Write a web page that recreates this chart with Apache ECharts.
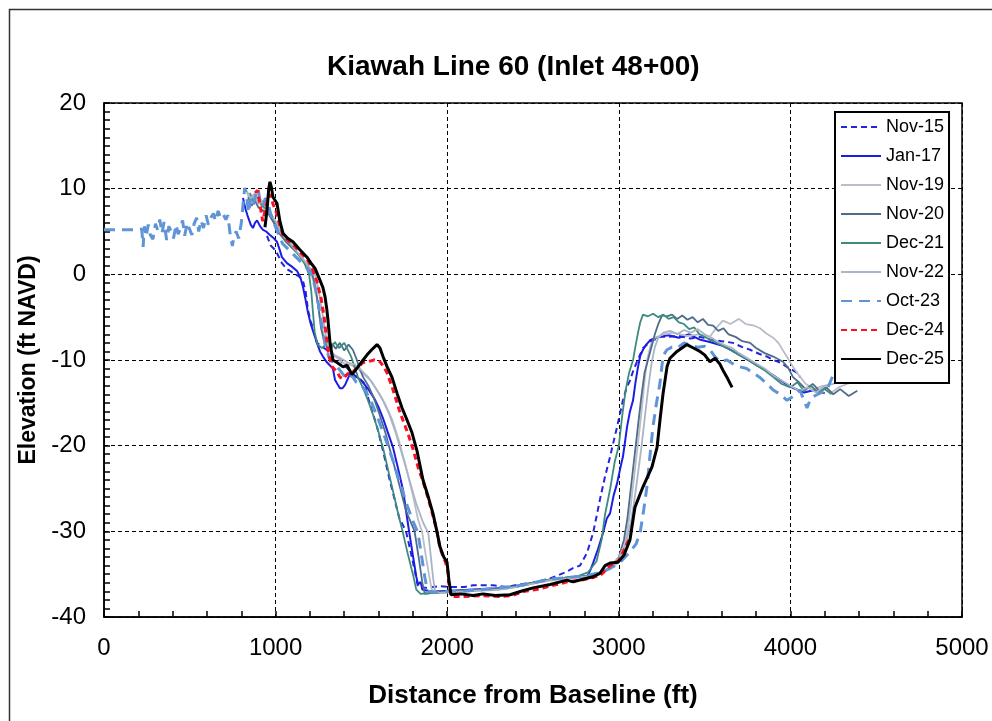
<!DOCTYPE html>
<html>
<head>
<meta charset="utf-8">
<title>Kiawah Line 60</title>
<script src="https://cdn.jsdelivr.net/npm/echarts@6/dist/echarts.min.js"></script>
<style>
    html, body { margin: 0; padding: 0; background: #fff; }
    #chart { width: 992px; height: 721px; }
</style>
</head>
<body>
<div id="chart"></div>
<script>
// survey names, in legend order
var surveys = ['Nov-15', 'Jan-17', 'Nov-19', 'Nov-20', 'Dec-21', 'Nov-22', 'Oct-23', 'Dec-24', 'Dec-25'];

// profiles: [distance ft, elevation ft NAVD]
var nov15 = [[950,4.5],[970,3.4],[1000,2.8],[1037,1.3],[1066,0.6],[1100,0.2],[1140,-0.3],[1160,-0.8],[1175,-2.0],[1189,-4.2],[1205,-5.5],[1218,-6.3],[1241,-8.0],[1276,-8.5],[1317,-9.1],[1345,-9.6],[1375,-10.0],[1410,-10.8],[1451,-11.7],[1490,-12.2],[1520,-12.8],[1533,-14.0],[1560,-15.8],[1591,-17.8],[1626,-20.6],[1660,-23.6],[1690,-26.0],[1720,-28.4],[1760,-30.0],[1785,-32.2],[1810,-34.5],[1830,-36.5],[1880,-36.6],[1950,-36.4],[2034,-36.5],[2100,-36.5],[2150,-36.3],[2267,-36.3],[2350,-36.5],[2420,-36.2],[2500,-36.0],[2600,-35.5],[2698,-34.7],[2733,-34.3],[2774,-34.0],[2815,-32.5],[2850,-30.2],[2870,-28.3],[2890,-26.3],[2920,-23.6],[2949,-21.3],[2970,-19.5],[2990,-17.8],[3024,-14.7],[3045,-13.3],[3065,-12.4],[3085,-11.2],[3106,-10.2],[3141,-8.6],[3182,-7.9],[3240,-7.3],[3281,-7.3],[3350,-7.2],[3420,-7.5],[3473,-7.3],[3530,-7.6],[3600,-7.8],[3665,-8.0],[3720,-8.5],[3765,-8.8],[3820,-9.3],[3864,-9.6],[3900,-10.0],[3940,-10.3],[3980,-10.8],[4015,-11.2],[4040,-11.5],[4056,-12.0]];

var jan17 = [[810,8.9],[825,7.6],[839,6.7],[855,5.8],[868,5.4],[880,6.0],[892,6.3],[910,5.6],[927,5.2],[945,5.0],[967,4.6],[990,4.2],[1008,3.8],[1025,2.8],[1037,2.0],[1066,1.3],[1095,0.9],[1125,0.4],[1145,-0.4],[1160,-1.5],[1175,-3.0],[1189,-4.5],[1205,-5.8],[1218,-6.6],[1241,-8.0],[1259,-9.0],[1276,-9.6],[1300,-10.3],[1334,-11.0],[1346,-12.3],[1360,-12.8],[1375,-13.3],[1390,-13.3],[1405,-12.9],[1416,-12.7],[1434,-11.6],[1460,-11.8],[1500,-12.4],[1540,-13.4],[1575,-14.5],[1600,-15.5],[1626,-16.8],[1655,-18.5],[1684,-20.2],[1713,-22.6],[1743,-25.2],[1760,-27.6],[1778,-30.0],[1800,-32.8],[1820,-35.3],[1830,-36.2],[1845,-35.9],[1855,-36.8],[1900,-37.0],[1960,-37.0],[2050,-36.9],[2150,-36.8],[2250,-36.7],[2350,-36.6],[2450,-36.2],[2550,-35.8],[2650,-35.5],[2750,-35.3],[2815,-35.3],[2835,-34.5],[2850,-33.7],[2880,-32.0],[2908,-30.2],[2930,-28.5],[2949,-27.9],[2970,-25.8],[2990,-24.4],[3010,-22.5],[3024,-21.3],[3040,-19.0],[3048,-17.8],[3065,-16.0],[3083,-14.7],[3098,-12.5],[3112,-10.8],[3125,-9.5],[3141,-8.8],[3160,-8.2],[3182,-7.7],[3230,-7.3],[3290,-7.1],[3350,-7.4],[3410,-7.0],[3470,-7.6],[3530,-7.9],[3600,-8.3],[3660,-8.9],[3720,-9.6],[3780,-10.3],[3840,-11.0],[3900,-11.8],[3960,-12.6],[4020,-13.3],[4080,-13.8],[4140,-13.5],[4200,-13.9]];

var nov19 = [[830,9.8],[850,8.6],[870,9.2],[890,8.2],[910,8.8],[935,7.5],[960,7.2],[985,6.4],[1010,5.2],[1040,4.4],[1080,3.6],[1120,2.6],[1160,1.6],[1200,0.5],[1220,-0.8],[1240,-2.8],[1260,-5.0],[1280,-7.0],[1300,-8.4],[1330,-9.2],[1360,-9.8],[1400,-10.4],[1440,-10.6],[1480,-11.0],[1520,-11.8],[1560,-12.5],[1600,-13.8],[1640,-15.2],[1680,-17.0],[1720,-19.5],[1760,-22.5],[1800,-25.8],[1830,-28.6],[1855,-30.2],[1875,-32.8],[1895,-35.2],[1910,-36.8],[1950,-37.2],[2050,-37.1],[2150,-36.9],[2250,-36.9],[2350,-36.7],[2450,-36.3],[2550,-35.9],[2650,-35.6],[2750,-35.4],[2850,-35.1],[2950,-34.4],[3000,-33.6],[3030,-32.0],[3050,-30.0],[3070,-27.0],[3090,-23.5],[3110,-20.0],[3130,-16.5],[3150,-12.5],[3165,-10.0],[3185,-8.3],[3210,-7.4],[3260,-7.0],[3320,-6.8],[3400,-7.2],[3470,-7.0],[3530,-7.3],[3570,-6.2],[3607,-5.4],[3650,-5.8],[3700,-5.2],[3740,-5.8],[3790,-6.0],[3823,-6.3],[3860,-6.9],[3899,-7.4],[3930,-8.0],[3957,-8.9],[3985,-9.8],[4015,-10.8],[4050,-11.8],[4090,-12.8],[4140,-13.4],[4190,-13.0],[4240,-13.8],[4280,-13.2],[4330,-12.8],[4380,-12.4]];

var nov20 = [[840,9.0],[860,8.0],[880,8.6],[900,7.8],[930,7.4],[960,7.0],[990,6.0],[1020,4.8],[1060,3.8],[1100,3.0],[1150,2.0],[1190,1.0],[1215,0.0],[1235,-1.8],[1250,-4.0],[1265,-6.3],[1285,-8.0],[1310,-8.8],[1330,-8.1],[1350,-8.7],[1375,-8.0],[1400,-8.9],[1425,-8.2],[1450,-8.8],[1470,-9.8],[1490,-11.0],[1510,-12.0],[1540,-13.0],[1570,-14.3],[1600,-16.0],[1640,-18.5],[1680,-21.5],[1720,-24.5],[1760,-27.6],[1810,-30.0],[1835,-33.2],[1855,-36.0],[1870,-37.3],[1950,-37.1],[2050,-37.0],[2150,-36.9],[2250,-36.8],[2350,-36.6],[2450,-36.3],[2550,-35.8],[2650,-35.5],[2750,-35.3],[2850,-35.1],[2920,-34.6],[2960,-34.0],[3000,-33.0],[3030,-31.0],[3050,-28.5],[3070,-25.0],[3090,-21.5],[3110,-18.0],[3130,-14.5],[3150,-11.5],[3170,-10.0],[3190,-8.5],[3210,-7.0],[3230,-5.8],[3252,-4.8],[3280,-4.9],[3310,-4.7],[3340,-5.2],[3370,-4.8],[3400,-5.3],[3430,-5.0],[3460,-5.6],[3490,-5.2],[3520,-5.9],[3550,-6.0],[3580,-6.6],[3610,-6.3],[3640,-7.0],[3680,-7.3],[3720,-7.8],[3765,-8.0],[3800,-8.6],[3850,-9.2],[3900,-9.6],[3957,-10.2],[3990,-11.0],[4015,-12.0],[4050,-12.6],[4090,-13.4],[4130,-12.8],[4170,-13.6],[4210,-13.2],[4250,-14.0],[4290,-13.4],[4340,-14.2],[4390,-13.6]];

var dec21 = [[850,9.5],[870,8.5],[895,9.0],[920,8.0],[950,7.6],[980,6.8],[1010,5.6],[1050,4.5],[1090,3.5],[1130,2.4],[1170,1.2],[1195,0.0],[1208,-2.0],[1218,-4.5],[1228,-6.8],[1245,-8.2],[1270,-8.6],[1300,-8.1],[1320,-8.8],[1345,-7.9],[1370,-8.6],[1400,-8.0],[1420,-8.8],[1440,-9.6],[1460,-10.8],[1480,-12.0],[1510,-13.3],[1540,-14.8],[1570,-16.5],[1600,-18.4],[1630,-20.6],[1660,-23.2],[1690,-25.8],[1715,-28.0],[1740,-30.0],[1770,-32.6],[1800,-35.0],[1820,-36.8],[1845,-37.3],[1900,-37.2],[2000,-37.1],[2100,-36.9],[2200,-36.9],[2300,-36.7],[2400,-36.4],[2500,-36.0],[2600,-35.6],[2700,-35.4],[2750,-35.3],[2820,-34.8],[2870,-33.5],[2900,-31.0],[2920,-28.0],[2950,-25.0],[2975,-22.0],[3000,-20.0],[3020,-16.5],[3040,-13.5],[3060,-11.5],[3083,-10.0],[3098,-8.3],[3112,-6.8],[3125,-5.6],[3141,-4.7],[3170,-4.9],[3200,-4.6],[3230,-5.0],[3260,-4.7],[3290,-5.2],[3320,-5.0],[3350,-5.6],[3380,-5.8],[3410,-6.4],[3440,-6.2],[3470,-7.0],[3510,-7.4],[3550,-7.8],[3600,-8.3],[3650,-8.8],[3700,-9.4],[3750,-9.9],[3800,-10.6],[3850,-11.2],[3900,-12.0],[3950,-12.8],[4000,-13.2],[4040,-12.6],[4080,-13.6],[4120,-13.0],[4160,-13.8],[4200,-13.4],[4240,-14.0]];

var nov22 = [[835,9.6],[855,8.8],[875,9.4],[900,8.2],[925,8.6],[950,7.8],[975,7.0],[1000,6.2],[1030,5.0],[1070,4.0],[1110,3.0],[1150,2.0],[1190,1.0],[1230,0.0],[1250,-1.8],[1270,-4.2],[1290,-6.8],[1310,-8.6],[1340,-9.4],[1380,-9.8],[1420,-10.3],[1460,-10.5],[1500,-11.2],[1540,-12.0],[1580,-13.2],[1620,-14.5],[1660,-16.2],[1700,-18.5],[1740,-21.2],[1780,-24.0],[1820,-26.8],[1860,-29.0],[1890,-30.2],[1905,-33.0],[1918,-35.5],[1930,-37.0],[1960,-37.2],[2000,-37.1],[2100,-37.0],[2200,-36.9],[2300,-36.8],[2400,-36.5],[2500,-36.1],[2600,-35.7],[2700,-35.5],[2800,-35.3],[2850,-35.2],[2950,-34.3],[3000,-33.0],[3040,-31.5],[3070,-29.0],[3090,-26.5],[3110,-23.5],[3130,-20.5],[3150,-17.0],[3170,-13.5],[3190,-10.5],[3210,-8.5],[3230,-7.4],[3260,-6.8],[3300,-6.6],[3340,-7.0],[3380,-6.5],[3420,-6.8],[3460,-6.4],[3500,-7.0],[3540,-7.4],[3580,-7.9],[3620,-8.3],[3660,-8.6],[3700,-9.2],[3750,-9.8],[3800,-10.4],[3850,-11.0],[3900,-11.8],[3950,-12.4],[4000,-13.0],[4050,-13.6],[4100,-13.2],[4150,-13.8],[4200,-13.0],[4250,-12.8],[4300,-12.0],[4350,-11.6],[4400,-11.3],[4440,-11.0]];

var oct23 = [[0,5.2],[60,5.2],[120,5.2],[180,5.2],[220,5.3],[228,3.2],[235,5.6],[245,4.4],[258,5.8],[270,4.6],[285,4.1],[300,5.9],[312,5.2],[325,6.4],[338,4.8],[350,6.1],[365,4.0],[378,5.6],[392,5.0],[405,4.2],[420,5.8],[432,4.7],[445,5.3],[458,6.3],[470,4.5],[485,6.0],[498,5.3],[512,4.6],[525,5.9],[540,6.6],[552,5.0],[565,6.3],[580,5.4],[595,6.9],[608,5.8],[622,6.6],[638,7.1],[650,6.2],[665,7.4],[680,6.6],[695,7.0],[710,6.4],[722,6.9],[735,4.7],[748,3.3],[758,4.5],[770,5.0],[785,4.2],[800,6.0],[812,8.5],[820,10.1],[830,9.4],[842,7.2],[855,8.8],[868,8.0],[880,9.0],[897,10.0],[910,8.6],[925,7.9],[940,8.9],[955,8.4],[972,7.0],[990,6.0],[1010,5.0],[1040,3.6],[1070,3.0],[1100,2.4],[1140,1.6],[1180,0.8],[1210,0.0],[1230,-1.5],[1250,-3.5],[1270,-6.0],[1290,-8.4],[1310,-9.6],[1330,-10.2],[1360,-10.8],[1390,-11.6],[1420,-12.2],[1445,-11.8],[1470,-12.6],[1500,-12.9],[1530,-13.8],[1560,-15.0],[1600,-17.0],[1640,-19.2],[1680,-21.5],[1720,-24.0],[1760,-26.6],[1800,-28.8],[1830,-30.2],[1850,-32.8],[1870,-35.4],[1885,-37.0],[1930,-37.1],[2000,-37.0],[2100,-37.0],[2200,-36.8],[2300,-36.6],[2400,-36.4],[2500,-36.0],[2600,-35.6],[2700,-35.4],[2800,-35.2],[2900,-34.8],[3000,-33.8],[3060,-32.5],[3100,-31.5],[3124,-30.2],[3145,-27.5],[3164,-24.8],[3180,-21.5],[3199,-17.8],[3220,-15.0],[3240,-12.7],[3258,-9.5],[3281,-8.8],[3310,-8.5],[3340,-8.6],[3380,-8.0],[3420,-8.3],[3460,-8.5],[3500,-8.4],[3531,-8.8],[3560,-9.6],[3590,-10.2],[3630,-10.0],[3670,-10.5],[3706,-10.8],[3745,-11.0],[3782,-11.5],[3820,-12.0],[3864,-12.8],[3900,-13.5],[3940,-14.0],[3980,-14.7],[4020,-14.2],[4056,-13.5],[4080,-14.8],[4097,-15.6],[4114,-14.7],[4131,-14.3],[4160,-14.0],[4213,-13.5],[4248,-11.8],[4270,-11.5]];

var dec24 = [[880,9.5],[895,9.8],[910,8.0],[925,6.2],[940,7.5],[955,9.0],[970,9.3],[985,8.2],[1000,7.5],[1020,6.0],[1043,4.6],[1070,4.0],[1101,3.5],[1140,2.6],[1183,1.8],[1215,0.6],[1240,-0.8],[1265,-2.8],[1283,-5.0],[1297,-7.5],[1310,-9.5],[1330,-10.8],[1358,-11.4],[1375,-12.0],[1393,-12.2],[1420,-11.6],[1445,-11.5],[1470,-11.0],[1509,-10.3],[1538,-10.2],[1575,-10.0],[1608,-10.2],[1630,-10.8],[1649,-11.5],[1678,-13.1],[1700,-14.5],[1720,-15.8],[1745,-17.2],[1770,-18.5],[1801,-20.4],[1830,-22.5],[1859,-24.2],[1890,-26.2],[1917,-28.2],[1940,-30.0],[1958,-32.0],[1990,-33.6],[2003,-34.5],[2012,-36.5],[2025,-37.6],[2100,-37.6],[2200,-37.5],[2300,-37.6],[2380,-37.5],[2450,-37.0],[2520,-36.8],[2600,-36.4],[2700,-35.9],[2780,-35.7],[2850,-35.4],[2900,-35.0],[2950,-34.0],[3000,-33.4],[3020,-32.6],[3048,-31.4],[3070,-30.6]];

var dec25 = [[938,5.5],[950,7.5],[960,10.0],[967,10.8],[975,10.2],[985,9.0],[1008,8.3],[1025,6.2],[1043,4.8],[1070,4.2],[1101,3.8],[1140,2.9],[1183,2.0],[1210,1.2],[1230,0.7],[1259,-0.7],[1275,-1.5],[1288,-2.6],[1298,-4.0],[1305,-5.3],[1317,-8.0],[1334,-10.0],[1358,-10.3],[1393,-10.8],[1416,-10.6],[1445,-11.7],[1480,-10.8],[1510,-10.0],[1533,-9.4],[1560,-8.8],[1591,-8.2],[1608,-8.6],[1626,-9.6],[1650,-10.8],[1678,-12.0],[1708,-13.9],[1737,-15.6],[1766,-17.0],[1795,-18.5],[1824,-20.6],[1859,-24.0],[1890,-26.0],[1917,-27.9],[1940,-30.0],[1958,-31.8],[1980,-33.0],[1999,-33.6],[2010,-35.7],[2022,-37.4],[2080,-37.3],[2150,-37.5],[2209,-37.3],[2280,-37.5],[2366,-37.4],[2430,-37.0],[2500,-36.6],[2600,-36.2],[2698,-35.7],[2733,-35.9],[2790,-35.6],[2850,-35.3],[2890,-34.9],[2920,-34.0],[2949,-33.7],[2995,-33.6],[3030,-32.8],[3065,-31.0],[3094,-27.2],[3141,-24.8],[3193,-22.5],[3223,-20.2],[3240,-17.0],[3258,-13.9],[3281,-10.8],[3298,-9.8],[3339,-9.0],[3397,-8.2],[3435,-8.6],[3473,-9.0],[3500,-9.4],[3531,-10.2],[3561,-9.8],[3590,-10.5],[3607,-11.2],[3635,-12.2],[3660,-13.2]];

var profiles = [nov15, jan17, nov19, nov20, dec21, nov22, oct23, dec24, dec25];

// drawing style per survey
var lineColors = ['#2424e0', '#1c1ce6', '#b9bdc8', '#4f6c8c', '#3d8b7c', '#a9b5c6', '#5f95d6', '#ff1020', '#000000'];
var lineWidths = [2, 2, 1.8, 1.8, 1.8, 1.8, 3, 3, 3];
var lineTypes = [[6, 4], 'solid', 'solid', 'solid', 'solid', 'solid', [11, 7], [6, 4], 'solid'];

var FONT = 'Liberation Sans, Arial, sans-serif';

var series = [];
for (var i = 0; i < surveys.length; i++) {
    series.push({
        name: surveys[i],
        type: 'line',
        data: profiles[i],
        symbol: 'none',
        z: 2 + i,
        lineStyle: {
            color: lineColors[i],
            width: lineWidths[i],
            type: lineTypes[i]
        },
        itemStyle: {color: lineColors[i]}
    });
}

var myChart = echarts.init(document.getElementById('chart'));

var option = {
    backgroundColor: '#fff',
    animation: false,
    textStyle: {fontFamily: FONT},
    graphic: [
        {
            // outer frame of the figure
            type: 'rect',
            left: 7, top: 7,
            shape: {width: 1100, height: 800},
            style: {fill: null, stroke: '#333', lineWidth: 1.5},
            z: -1
        },
        {
            type: 'text',
            left: 327,
            top: 53,
            style: {
                text: 'Kiawah Line 60 (Inlet 48+00)',
                font: 'bold 28px ' + FONT,
                fill: '#000'
            }
        }
    ],
    grid: {
        left: 104, right: 30, top: 103, bottom: 104,
        show: true,
        borderColor: '#000',
        borderWidth: 1.5
    },
    legend: {
        orient: 'vertical',
        left: 835,
        top: 112,
        data: surveys,
        itemWidth: 40,
        itemHeight: 14,
        itemGap: 11,
        padding: [6, 5, 15, 5],
        backgroundColor: '#fff',
        borderColor: '#000',
        borderWidth: 2,
        itemStyle: {opacity: 0},
        textStyle: {fontSize: 18, color: '#000', fontFamily: FONT},
        z: 20
    },
    xAxis: {
        type: 'value',
        min: 0, max: 5000, interval: 1000,
        name: 'Distance from Baseline (ft)',
        nameLocation: 'middle',
        nameGap: 66,
        nameTextStyle: {fontSize: 26, fontWeight: 'bold', color: '#000'},
        axisLine: {show: true, onZero: false, lineStyle: {color: '#000', width: 1.5}},
        axisTick: {show: true, inside: true, length: 6, lineStyle: {color: '#000', width: 1.5}},
        minorTick: {show: true, splitNumber: 5, length: 6, lineStyle: {color: '#000', width: 1.5}},
        axisLabel: {fontSize: 24, color: '#000', margin: 19, formatter: function (v) { return String(v); }},
        splitLine: {show: true, lineStyle: {color: '#000', type: [4, 3], width: 1}}
    },
    yAxis: {
        type: 'value',
        min: -40, max: 20, interval: 10,
        name: 'Elevation (ft NAVD)',
        nameLocation: 'middle',
        nameGap: 58,
        nameTextStyle: {fontSize: 23, fontWeight: 'bold', color: '#000'},
        axisLine: {show: true, onZero: false, lineStyle: {color: '#000', width: 1.5}},
        axisTick: {show: true, inside: true, length: 6, lineStyle: {color: '#000', width: 1.5}},
        minorTick: {show: true, splitNumber: 10, length: 6, lineStyle: {color: '#000', width: 1.5}},
        axisLabel: {fontSize: 24, color: '#000', margin: 18},
        splitLine: {show: true, lineStyle: {color: '#000', type: [4, 3], width: 1}}
    },
    series: series
};

myChart.setOption(option);
</script>
</body>
</html>
